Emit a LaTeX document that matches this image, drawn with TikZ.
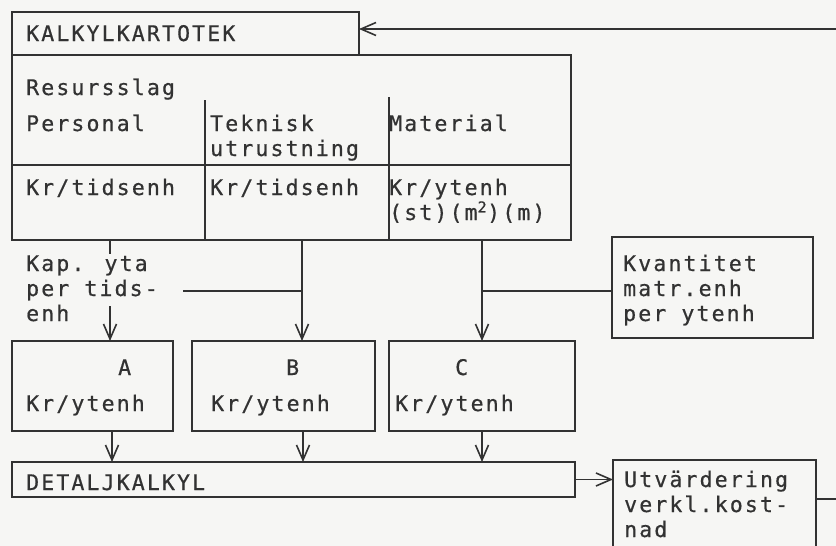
\documentclass[tikz,border=0pt]{standalone}
\usepackage{fontspec}
\newfontfamily\skriv[LetterSpace=10,FakeBold=0.6]{DejaVu Sans Mono}
\usepackage{tikz}
\usetikzlibrary{arrows.meta,calc,positioning}
\definecolor{papper}{RGB}{246,246,244}
\definecolor{bläck}{RGB}{50,50,50}
\tikzset{
  ruta/.style={draw=bläck, line width=1.6pt, anchor=north west, inner sep=0pt, outer sep=0pt},
  txt/.style={anchor=base west, inner sep=0pt, align=left, text=bläck, font=\skriv\fontsize{21.5}{25}\selectfont},
  linje/.style={draw=bläck, line width=1.6pt},
  pil/.style={linje, -{Straight Barb[length=15pt,width=13pt]}}
}

\begin{document}
\begin{tikzpicture}[x=1pt, y=-1pt]
\useasboundingbox (0,0) rectangle (836,546);
\clip (0,0) rectangle (836,546);
\fill[papper] (0,0) rectangle (836,546);
% kalkylkartotek
\node[ruta, minimum width=347pt, minimum height=43pt] (kalk) at (12,12) {};
\node[ruta, minimum width=559pt, minimum height=185pt] (kort) at (12,55) {};
\coordinate (tek) at (205,100);
\coordinate (mat) at (389,97);
\coordinate (rad) at (0,165);
\draw[linje] (tek) -- (tek |- kort.south);
\draw[linje] (mat) -- (mat |- kort.south);
\draw[linje] (rad -| kort.west) -- (rad -| kort.east);
% (flerradiga noder: y = sista radens baslinje)
\node[txt] (kalktxt) at (26,41) {KALKYLKARTOTEK};
\node[txt] (slag) at (26,95) {Resursslag};
\node[txt] (pers) at (26,131) {Personal};
\node[txt] (tekn) at (210,156) {Teknisk\\utrustning};
\node[txt] (matr) at (389,131) {Material};
\node[txt] (krpers) at (26,195) {Kr/tidsenh};
\node[txt] (krtekn) at (210,195) {Kr/tidsenh};
\node[txt] (krmatr) at (389,220) {Kr/ytenh\\(st)(m\textsuperscript{2})(m)};
% mellanled
\node[ruta, minimum width=161pt, minimum height=90pt] (a) at (12,341) {};
\node[ruta, minimum width=183pt, minimum height=90pt] (b) at (192,341) {};
\node[ruta, minimum width=186pt, minimum height=90pt] (c) at (389,341) {};
\node[ruta, minimum width=201pt, minimum height=101pt] (kvant) at (612,237) {};
\node[txt] (kap) at (26,321) {Kap. yta\\per tids-\\enh};
\node[txt] (kvanttxt) at (623,321) {Kvantitet\\matr.enh\\per ytenh};
\node[txt] (atxt) at (118,375) {A};
\node[txt] (btxt) at (286,375) {B};
\node[txt] (ctxt) at (455,375) {C};
\node[txt] (akr) at (26,411) {Kr/ytenh};
\node[txt] (bkr) at (211,411) {Kr/ytenh};
\node[txt] (ckr) at (395,411) {Kr/ytenh};
% detaljkalkyl
\node[ruta, minimum width=563pt, minimum height=35pt] (detalj) at (12,462) {};
\node[ruta, minimum width=203pt, minimum height=110pt] (utv) at (613,460) {};
\node[txt] (detaljtxt) at (26,490) {DETALJKALKYL};
\node[txt] (utvtxt) at (624,537) {Utvärdering\\verkl.kost-\\nad};
% pilar
\coordinate (xa) at (110,0);
\coordinate (xb) at (302,0);
\coordinate (xc) at (482,0);
\coordinate (kapo) at (110,254);
\coordinate (kapu) at (110,306);
\coordinate (kaph) at (183,291);
\coordinate (kvh) at (0,291);
\draw[linje] (xa |- kort.south) -- (kapo);
\draw[pil] (kapu) -- (xa |- a.north);
\draw[linje] (kaph) -- (kaph -| xb);
\draw[pil] (xb |- kort.south) -- (xb |- b.north);
\draw[pil] (xc |- kort.south) -- (xc |- c.north);
\draw[linje] (kvh -| kvant.west) -- (kvh -| xc);
\coordinate (ya) at (112,0);
\coordinate (yb) at (303,0);
\draw[pil] (ya |- a.south) -- (ya |- detalj.north);
\draw[pil] (yb |- b.south) -- (yb |- detalj.north);
\draw[pil] (xc |- c.south) -- (xc |- detalj.north);
\draw[pil] (detalj.east) -- (detalj.east -| utv.west);
% retur till kartoteket
\coordinate (ut) at (0,499);
\coordinate (retur) at (850,29);
\draw[pil] (ut -| utv.east) -- (ut -| retur) -- (retur) -- (retur -| kalk.east);
\end{tikzpicture}
\end{document}
